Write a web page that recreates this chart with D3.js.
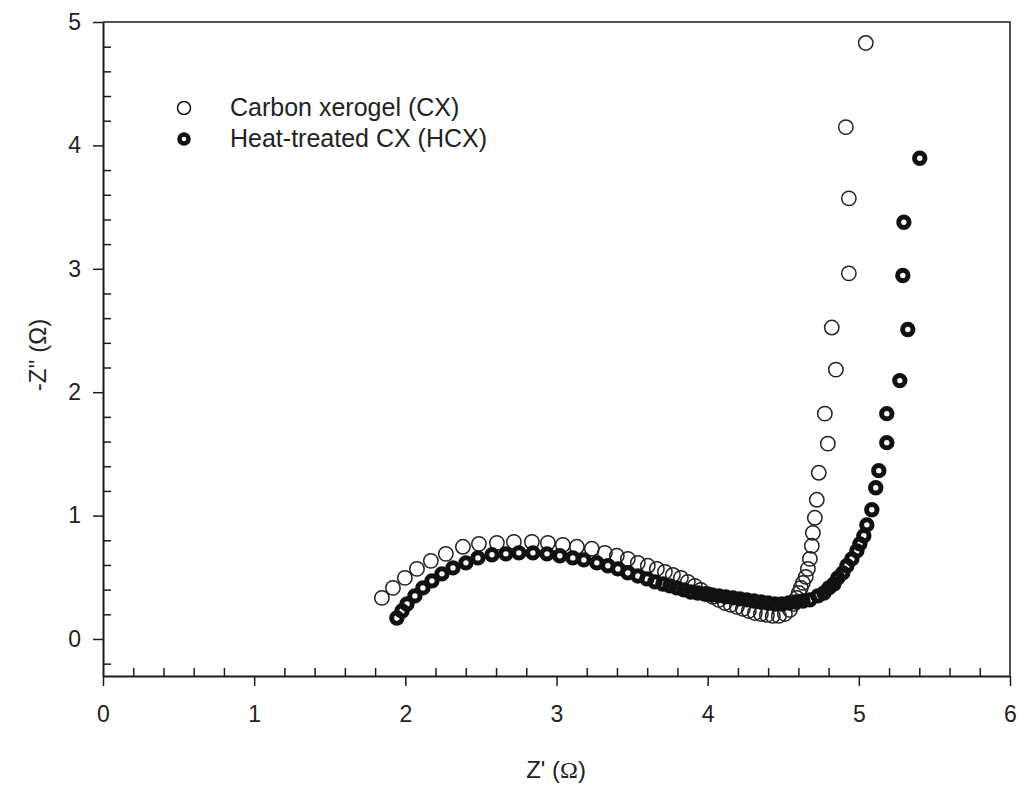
<!DOCTYPE html>
<html>
<head>
<meta charset="utf-8">
<script src="https://cdn.jsdelivr.net/npm/d3@7"></script>
<style>
  body { margin: 0; background: #fff; }
  svg { display: block; font-family: "Liberation Sans", Arial, sans-serif; }
</style>
</head>
<body>
<svg id="chart" width="1020" height="787"></svg>
<script>
// Nyquist data: Z' and -Z'' in ohm
const cxZre = [1.845,1.918,1.997,2.077,2.169,2.268,2.381,2.487,2.606,2.718,2.837,2.943,3.042,3.135,3.234,3.320,3.399,3.472,3.538,3.604,3.664,3.717,3.770,3.823,3.869,3.915,3.955,3.995,4.034,4.074,4.114,4.153,4.193,4.233,4.272,4.312,4.352,4.392,4.431,4.471,4.511,4.544,4.570,4.590,4.603,4.616,4.630,4.649,4.663,4.676,4.689,4.696,4.709,4.722,4.735,4.795,4.775,4.848,4.821,4.934,4.934,4.914,5.046];
const cxZim = [0.333,0.414,0.495,0.568,0.633,0.690,0.747,0.771,0.779,0.787,0.787,0.779,0.763,0.747,0.731,0.698,0.674,0.649,0.617,0.593,0.568,0.544,0.519,0.495,0.463,0.430,0.398,0.365,0.341,0.317,0.292,0.276,0.260,0.244,0.227,0.211,0.203,0.195,0.187,0.187,0.203,0.235,0.284,0.333,0.373,0.414,0.455,0.503,0.568,0.649,0.755,0.860,0.982,1.128,1.347,1.583,1.826,2.183,2.524,2.963,3.571,4.148,4.830];

const hcxZre = [1.944,1.978,2.011,2.063,2.116,2.176,2.242,2.315,2.401,2.480,2.573,2.665,2.751,2.844,2.937,3.022,3.108,3.181,3.267,3.340,3.406,3.472,3.538,3.598,3.651,3.704,3.750,3.796,3.843,3.889,3.935,3.981,4.028,4.074,4.120,4.167,4.213,4.259,4.306,4.352,4.398,4.444,4.491,4.537,4.583,4.630,4.676,4.729,4.769,4.802,4.835,4.861,4.894,4.921,4.954,4.987,5.007,5.033,5.053,5.086,5.112,5.132,5.185,5.185,5.271,5.324,5.291,5.298,5.403];
const hcxZim = [0.170,0.227,0.284,0.349,0.414,0.471,0.528,0.576,0.617,0.657,0.682,0.690,0.698,0.698,0.690,0.674,0.657,0.641,0.617,0.593,0.568,0.536,0.511,0.487,0.463,0.446,0.430,0.414,0.398,0.381,0.373,0.365,0.357,0.349,0.341,0.333,0.325,0.317,0.308,0.300,0.292,0.284,0.284,0.292,0.300,0.308,0.317,0.349,0.373,0.414,0.446,0.495,0.536,0.593,0.649,0.714,0.771,0.836,0.925,1.047,1.226,1.364,1.591,1.826,2.094,2.508,2.946,3.377,3.896];

const xTicks = [0, 1, 2, 3, 4, 5, 6];
const yTicks = [0, 1, 2, 3, 4, 5];
const legendLabels = ["Carbon xerogel (CX)", "Heat-treated CX (HCX)"];

const svg = d3.select("#chart");
const ink = "#1b1b1b";

const m = {left: 103, right: 1010, top: 22, bottom: 676};

const x = d3.scaleLinear().domain([0, 6]).range([m.left, m.right]);
const y = d3.scaleLinear().domain([-0.3, 5]).range([m.bottom, m.top]);

const minorX = d3.range(0, 6.001, 0.2).filter(v => Math.abs(v - Math.round(v)) > 1e-6);
const minorY = d3.range(-0.2, 5.001, 0.2).filter(v => Math.abs(v - Math.round(v)) > 1e-6);

// frame (top/right)
svg.append("path")
  .attr("d", `M${m.left},${m.top}H${m.right}V${m.bottom}`)
  .attr("fill", "none")
  .attr("stroke", ink)
  .attr("stroke-width", 1.5);

// x axis: major ticks outside, minor inside
const gx = svg.append("g").attr("transform", `translate(0,${m.bottom})`);
gx.call(d3.axisBottom(x).tickValues(xTicks).tickSize(10).tickSizeOuter(0).tickPadding(20).tickFormat(d3.format("d")));
gx.append("g").call(d3.axisBottom(x).tickValues(minorX).tickSize(-8).tickSizeOuter(0).tickFormat(""))
  .select(".domain").remove();

// y axis
const gy = svg.append("g").attr("transform", `translate(${m.left},0)`);
gy.call(d3.axisLeft(y).tickValues(yTicks).tickSize(10).tickSizeOuter(0).tickPadding(12).tickFormat(d3.format("d")));
gy.append("g").call(d3.axisLeft(y).tickValues(minorY).tickSize(-8).tickSizeOuter(0).tickFormat(""))
  .select(".domain").remove();

svg.selectAll(".domain").attr("stroke", ink).attr("stroke-width", 2);
svg.selectAll(".tick line").attr("stroke", ink).attr("stroke-width", 1.5);
svg.selectAll(".tick text")
  .attr("fill", "#222")
  .style("font-size", "23px")
  .style("font-family", "'Liberation Sans', Arial, sans-serif");

// axis titles
const xt = svg.append("text")
  .attr("x", 556).attr("y", 778)
  .attr("text-anchor", "middle")
  .attr("fill", "#222")
  .style("font-size", "24px");
xt.append("tspan").text("Z' (");
xt.append("tspan").style("font-family", "'Liberation Serif', 'DejaVu Serif', serif").text("Ω");
xt.append("tspan").text(")");

svg.append("text")
  .attr("transform", "translate(46,355) rotate(-90)")
  .attr("text-anchor", "middle")
  .attr("fill", "#222")
  .style("font-size", "24px")
  .text("-Z'' (Ω)");

// data
const plot = svg.append("g");

plot.append("g").selectAll("circle")
  .data(d3.zip(cxZre, cxZim))
  .join("circle")
    .attr("cx", d => x(d[0]))
    .attr("cy", d => y(d[1]))
    .attr("r", 7.2)
    .attr("fill", "none")
    .attr("stroke", "#222")
    .attr("stroke-width", 1.5);

plot.append("g").selectAll("circle")
  .data(d3.zip(hcxZre, hcxZim))
  .join("circle")
    .attr("cx", d => x(d[0]))
    .attr("cy", d => y(d[1]))
    .attr("r", 5.2)
    .attr("fill", "none")
    .attr("stroke", "#111")
    .attr("stroke-width", 5);

// legend
const legend = svg.append("g");
const rows = [
  {label: legendLabels[0], r: 6.5, w: 1.5},
  {label: legendLabels[1], r: 4.5, w: 4.5}
];
rows.forEach((row, i) => {
  const cy = 108 + i * 31;
  legend.append("circle")
    .attr("cx", 184).attr("cy", cy)
    .attr("r", row.r)
    .attr("fill", "none")
    .attr("stroke", "#111")
    .attr("stroke-width", row.w);
  legend.append("text")
    .attr("x", 230).attr("y", cy + 8)
    .attr("fill", "#222")
    .style("font-size", "25px")
    .text(row.label);
});
</script>
</body>
</html>
